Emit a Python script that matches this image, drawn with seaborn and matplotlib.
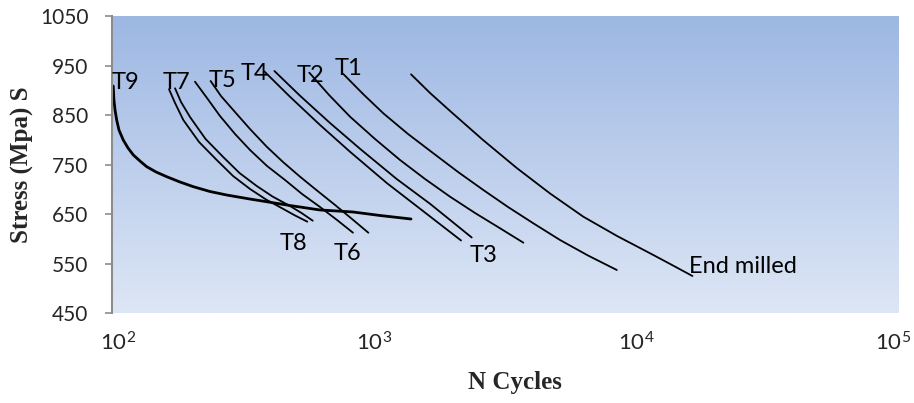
import matplotlib
matplotlib.use("Agg")
import matplotlib.pyplot as plt
import matplotlib.transforms as mtransforms
import numpy as np
import pandas as pd
import seaborn as sb

# S-N curves: N cycles / stress (MPa)
t9_n = [101.1, 101.7, 102.7, 104.2, 106.3, 110.4, 115.1, 120.6, 127.8, 135.6, 147.2, 161.6,
        181.6, 204.2, 236.4, 273.8, 335.8, 388.9, 477.1, 620.9, 828.8, 1051, 1380]
t9_s = [908.7, 880.5, 860.3, 840.1, 819.9, 799.7, 783.6, 769.5, 757.4, 745.9, 735.2, 725.7,
        715.0, 705.5, 695.8, 688.7, 680.6, 675.2, 667.5, 658.5, 654.5, 647.4, 640.3]
t7_n = [165.0, 173.9, 187.0, 214.7, 250.7, 289.3, 335.8, 386.5, 449.9, 498.6, 555.4]
t7_s = [902.1, 874.4, 840.1, 795.7, 759.4, 727.1, 700.9, 679.7, 660.5, 647.4, 634.9]
t8_n = [173.9, 183.3, 198.3, 227.3, 265.4, 306.3, 356.2, 409.2, 477.1, 527.9, 582.3]
t8_s = [904.1, 876.4, 846.2, 801.8, 765.4, 733.1, 706.9, 685.7, 666.5, 652.4, 636.9]
t5_n = [207.2, 230.2, 258.0, 294.4, 335.8, 389.9, 456.7, 530.2, 620.9, 720.8, 828.8]
t5_s = [917.4, 884.5, 848.2, 811.9, 779.6, 747.3, 719.0, 690.8, 664.5, 638.3, 612.7]
t6_n = [237.6, 260.3, 289.8, 335.8, 388.9, 448.7, 520.9, 604.6, 708.4, 822.2, 948.6]
t6_s = [918.8, 888.5, 860.3, 821.9, 786.2, 755.3, 725.7, 697.8, 668.6, 640.3, 612.7]
t4_n = [381, 477, 621, 808, 1115, 1494, 2140]
t4_s = [938, 887, 830, 776, 713, 661, 597]
t3_n = [416, 521, 678, 882, 1217, 1631, 2351]
t3_s = [939, 889, 834, 782, 721, 671, 603]
t2_n = [565.2, 672.0, 807.9, 1006, 1253, 1561, 1944, 2421, 3016, 3700]
t2_s = [935.6, 890.6, 846.8, 801.8, 759.4, 721.0, 685.3, 652.4, 621.5, 592.5]
t1_n = [761.8, 905.6, 1082, 1344, 1679, 2085, 2604, 3234, 4038, 5105, 6526, 8400]
t1_s = [932.9, 892.6, 853.6, 811.9, 772.9, 735.2, 698.8, 664.5, 631.6, 597.9, 566.6, 537.4]
em_n = [1380, 1631, 1944, 2597, 3491, 4676, 6263, 8420, 11250, 13530, 16310]
em_s = [932.3, 894.6, 858.3, 799.7, 743.2, 691.8, 644.9, 606.0, 571.1, 548.5, 525.3]

# curve labels (left edge / baseline)
lab_txt = ["T9", "T7", "T5", "T4", "T2", "T1", "T8", "T6", "T3", "End milled"]
lab_n = [100, 156, 234, 308, 506, 708, 437, 698, 2317, 15880]
lab_s = [903, 903, 907, 921, 917, 931, 578, 558, 554, 531]

ytick_vals = [450, 550, 650, 750, 850, 950, 1050]
xtick_vals = [1e2, 1e3, 1e4, 1e5]

curves = [
    (t9_n, t9_s, 2.0), (t7_n, t7_s, 1.3), (t8_n, t8_s, 1.3),
    (t5_n, t5_s, 1.3), (t6_n, t6_s, 1.3), (t4_n, t4_s, 1.3),
    (t3_n, t3_s, 1.3), (t2_n, t2_s, 1.3), (t1_n, t1_s, 1.3),
    (em_n, em_s, 1.3),
]

sb.set_style("white")
plt.rcParams['font.family'] = ['Lato', 'DejaVu Sans']

fig = plt.figure(figsize=(9.14, 4.03), dpi=100)
pos = [112/914, 1-313.3/403, (899-112)/914, (313.3-16)/403]

# gradient background behind the plot area
bg = fig.add_axes(pos, zorder=0)
top = np.array([157, 183, 227]) / 255
bot = np.array([221, 230, 245]) / 255
t = np.linspace(0, 1, 256)[:, None]
grad = (top * (1 - t) + bot * t)[:, None, :]
bg.imshow(grad, aspect='auto', extent=[0, 1, 0, 1])
bg.axis('off')

ax = fig.add_axes(pos, zorder=1)
ax.set_facecolor('none')

for n, s, lw in curves:
    df = pd.DataFrame({"N": n, "S": s})
    sb.lineplot(data=df, x="N", y="S", sort=False, estimator=None,
                color="black", linewidth=lw, ax=ax)

for txt, n, s in zip(lab_txt, lab_n, lab_s):
    ax.text(n, s, txt, fontsize=17, ha='left', va='baseline', color='black')

ax.set_xscale('log')
ax.set_xlim(1e2, 1e5)
ax.set_ylim(450, 1050)
ax.set_xticks(xtick_vals)
ax.minorticks_off()
ax.set_yticks(ytick_vals)
ax.set_xlabel("")
ax.set_ylabel("")

for side in ['top', 'right', 'bottom']:
    ax.spines[side].set_visible(False)
ax.spines['left'].set_color('#8c8c8c')
ax.spines['left'].set_linewidth(1.5)
ax.tick_params(axis='y', direction='out', length=5, width=1.2, color='#8c8c8c',
               pad=12, labelsize=15, left=True)
ax.tick_params(axis='x', length=0, pad=13, labelsize=16)

# nudge first and last x labels like the reference
xl = ax.get_xticklabels()
shifts = [6, 0, 0, -6]
for lbl, dx in zip(xl, shifts):
    off = mtransforms.ScaledTranslation(dx/100, 0, fig.dpi_scale_trans)
    lbl.set_transform(lbl.get_transform() + off)

fig.text(22/914, 1-165/403, "Stress (Mpa) S", rotation=90, ha='center', va='center',
         fontsize=18, fontweight='bold', family='Liberation Serif')
fig.text(515/914, 1-383/403, "N Cycles", ha='center', va='center',
         fontsize=18, fontweight='bold', family='Liberation Serif')

fig.savefig("out.png", dpi=100)
